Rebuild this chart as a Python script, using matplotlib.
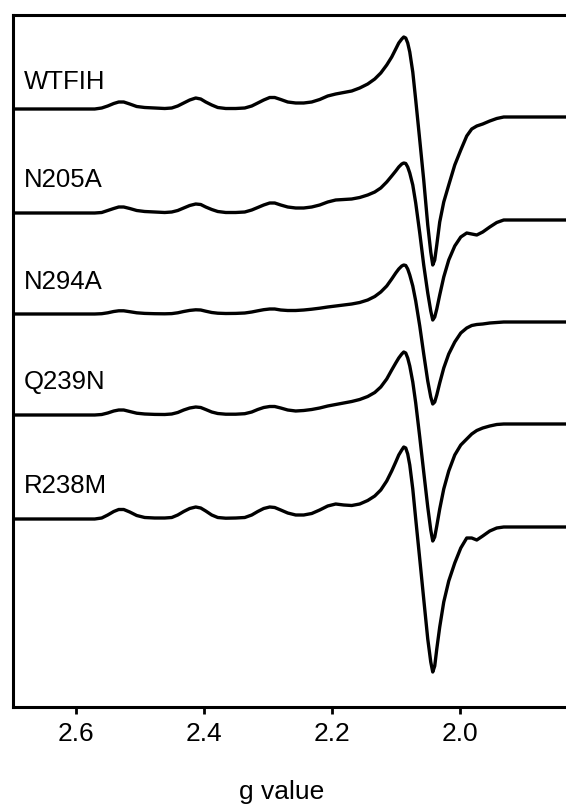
import matplotlib
matplotlib.use("Agg")
import matplotlib.pyplot as plt

plt.rcParams['font.family'] = ['Liberation Sans', 'DejaVu Sans']

# g-value sample points (shared by all spectra)
g_values = [2.700, 2.5703, 2.5594, 2.5500, 2.5406, 2.5328, 2.5250, 2.5156, 2.5047, 2.4922,
            2.4766, 2.4609, 2.4500, 2.4406, 2.4313, 2.4219, 2.4125, 2.4047, 2.3969, 2.3875,
            2.3781, 2.3656, 2.3500, 2.3359, 2.3250, 2.3156, 2.3063, 2.2969, 2.2891, 2.2797,
            2.2688, 2.2563, 2.2438, 2.2313, 2.2188, 2.2063, 2.1938, 2.1813, 2.1688, 2.1563,
            2.1438, 2.1328, 2.1234, 2.1141, 2.1063, 2.1000, 2.0953, 2.0906, 2.0875, 2.0844,
            2.0813, 2.0781, 2.0734, 2.0688, 2.0625, 2.0563, 2.0500, 2.0453, 2.0422, 2.0391,
            2.0359, 2.0313, 2.0250, 2.0172, 2.0078, 1.9984, 1.9891, 1.9813, 1.9734, 1.9641,
            1.9531, 1.9422, 1.9313, 1.800]

labels = ["WTFIH", "N205A", "N294A", "Q239N", "R238M"]

# EPR first-derivative intensities (arbitrary units, relative to each trace's baseline)
wtfih = [0, 0, 1, 3, 5.5, 7, 7, 5, 2.5, 1.5,
         1, 0.5, 1, 3, 6, 9, 11, 10, 7, 4,
         1.5, 0.5, 0.5, 1, 3, 6, 9, 11.5, 11.5, 9.5,
         7, 6, 6, 7, 9.5, 13, 15, 16.5, 18, 21,
         25, 30, 36, 44, 52, 60, 66, 70, 72, 71,
         66, 57, 37, 9, -31, -71, -116, -143, -156, -151,
         -136, -113, -93, -76, -56, -41, -27, -20, -17, -15,
         -12, -9.5, -8, -8]
n205a = [0, 0, 0.5, 2.5, 4.5, 6, 6, 4.5, 2.5, 1.5,
         1, 0.5, 1, 2.5, 5, 7.5, 9, 8.5, 6, 3.5,
         1.5, 0.5, 0.5, 1, 3, 5.5, 8, 10, 10, 8,
         6, 5, 5, 6, 8, 11, 13, 13.5, 14, 15.5,
         18, 21, 25, 31, 37, 42, 46, 49, 50, 49.5,
         46, 40, 28, 10, -20, -52, -80, -98, -107, -104,
         -96, -82, -64, -47, -33, -24, -20, -21, -22, -19,
         -14, -9.5, -7, -7]
n294a = [0, 0, 0.3, 1.2, 2.5, 3.2, 3.2, 2.3, 1.2, 0.6,
         0.3, 0.2, 0.4, 1.2, 2.5, 3.6, 4.2, 4, 2.8, 1.5,
         0.8, 0.5, 0.6, 1, 2, 3.2, 4.3, 5, 5, 4,
         3.5, 3.5, 4, 4.8, 5.8, 7, 8, 9, 10, 11.5,
         14, 17.5, 22, 28, 35, 41, 45, 48, 49, 48.5,
         45, 39, 28, 13, -12, -40, -67, -83, -90, -88,
         -81, -69, -54, -40, -28, -19, -14, -11.5, -10.5, -10,
         -9, -8.5, -8, -8]
q239n = [0, 0, 0.5, 2, 4, 5, 5, 3.5, 1.8, 1,
         0.6, 0.5, 1, 2.5, 5, 7, 8, 7.5, 5.5, 3,
         1.5, 0.8, 0.8, 1.3, 3, 5.5, 7.5, 8.5, 8.5, 7,
         5, 4, 4.5, 5.5, 7, 9, 10.5, 12, 13.5, 15.5,
         18.5, 22.5, 28, 36, 45, 52, 57, 61, 63, 62,
         57, 49, 33, 12, -22, -57, -92, -115, -126, -122,
         -111, -94, -74, -56, -40, -30, -24, -19, -15.5, -13,
         -11, -9.5, -9, -9]
r238m = [0, 0, 1, 4, 7.5, 9.5, 9.5, 7, 3.5, 1.5,
         1, 1, 1.5, 4, 7.5, 10.5, 12, 11, 8, 4,
         1.5, 0.8, 1, 1.5, 4, 7.5, 10.5, 12, 11.5, 9,
         6, 4, 4, 5.5, 9, 13, 15, 14, 13.5, 15,
         18.5, 23, 29, 38, 48, 57, 64, 69, 72, 71,
         65, 54, 30, 0, -40, -80, -120, -143, -153, -147,
         -130, -108, -83, -62, -44, -29, -19, -19, -21, -17,
         -12, -9, -8, -8]

spectra = [wtfih, n205a, n294a, q239n, r238m]
offsets = [598, 494, 393, 292, 188]
label_y = [625, 527, 425, 325, 221]

tick_values = [2.6, 2.4, 2.2, 2.0]
tick_labels = ["2.6", "2.4", "2.2", "2.0"]

W, H = 566, 806
fig = plt.figure(figsize=(W / 100, H / 100), dpi=100)
left_px, right_px, top_px, bottom_px = 13, 566, 15, 707
ax = fig.add_axes([left_px / W, (H - bottom_px) / H,
                   (right_px - left_px) / W, (bottom_px - top_px) / H])

for spec, off in zip(spectra, offsets):
    ax.plot(g_values, [v + off for v in spec], color='black', lw=2.4,
            solid_joinstyle='round', solid_capstyle='round')

for lab, ly in zip(labels, label_y):
    ax.text(2.681, ly, lab, fontsize=18.5, ha='left', va='center', color='black')

ax.set_xlim(2.698, 1.834)
ax.set_ylim(0, bottom_px - top_px)
ax.set_xticks(tick_values)
ax.set_xticklabels(tick_labels, fontsize=19)
ax.set_yticks([])
ax.tick_params(axis='x', direction='out', length=5, width=2, pad=6)
for side in ['left', 'bottom', 'top']:
    ax.spines[side].set_linewidth(2.2)
ax.spines['right'].set_visible(False)

ax.set_xlabel("g value", fontsize=19)
ax.xaxis.set_label_coords((282 - left_px) / (right_px - left_px), -(792 - bottom_px) / (bottom_px - top_px))
ax.xaxis.label.set_va('center')

fig.savefig("out.png", dpi=100)
